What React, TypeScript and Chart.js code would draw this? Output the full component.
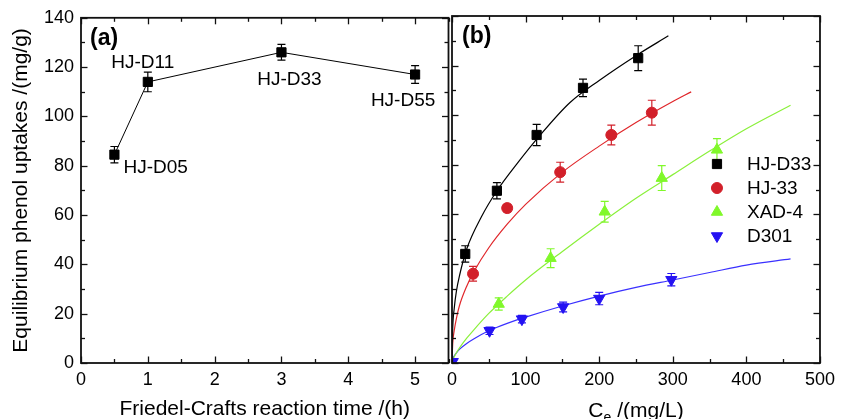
import React, { useEffect, useRef } from 'react';
import { Chart, registerables } from 'chart.js';

Chart.register(...registerables);

const FONT = '"Liberation Sans", Arial, Helvetica, sans-serif';

// ---------- Panel (a) ----------
const timeHours = [0.5, 1, 3, 5];
const uptakeA = [84.5, 114, 126, 117];
const errA = [3.3, 4, 3.2, 3.6];
const resinNamesA = ['HJ-D05', 'HJ-D11', 'HJ-D33', 'HJ-D55'];
const xTicksA = [0, 1, 2, 3, 4, 5];

// ---------- Panel (b) ----------
const seriesNames = ['HJ-D33', 'HJ-33', 'XAD-4', 'D301'];

const ceHJD33 = [18, 61, 115, 178, 253];
const qHJD33 = [44, 69.5, 92, 111, 123];
const errHJD33 = [3.3, 3.3, 4.3, 3.5, 5];

const ceHJ33 = [28.6, 75, 147, 216.5, 271.5];
const qHJ33 = [36, 62.5, 77, 92, 101];
const errHJ33 = [3, 1.5, 4, 4, 5];

const ceXAD4 = [63.5, 134, 207.5, 285, 360];
const qXAD4 = [23.8, 42.3, 61, 74.6, 86];
const errXAD4 = [2.5, 3.8, 4.2, 5, 4.5];

const ceD301 = [1, 51, 95, 151, 200, 298];
const qD301 = [0.5, 13, 17.7, 22.6, 26, 33.6];
const errD301 = [0, 1.5, 1.5, 2, 2.5, 2.5];

// fitted curves
const fitCeHJD33 = [0, 1, 3, 6, 10, 20, 40, 60, 90, 120, 160, 200, 250, 294];
const fitQHJD33 = [0, 14, 22, 29, 35, 46, 59, 69, 81, 92, 105, 114, 124, 132];

const fitCeHJ33 = [0, 1, 3, 6, 10, 20, 30, 50, 75, 100, 150, 200, 250, 300, 325];
const fitQHJ33 = [0, 8, 13, 18, 23, 31, 37, 46.5, 56, 64, 77, 87.5, 97, 105.5, 109.4];

const fitCeXAD4 = [0, 2, 5, 10, 20, 30, 50, 75, 100, 150, 200, 250, 300, 350, 400, 460];
const fitQXAD4 = [0, 1.8, 3.6, 6, 10, 13.5, 20, 27, 33.5, 45, 56, 66.5, 76, 85.5, 94.5, 104];

const fitCeD301 = [0, 2, 5, 10, 20, 30, 50, 75, 100, 150, 200, 250, 300, 350, 400, 460];
const fitQD301 = [0, 2.3, 3.7, 5.5, 7.9, 9.8, 13, 16, 18.5, 23, 27, 30.5, 33.5, 36.5, 39.5, 42];

const xTicksB = [0, 100, 200, 300, 400, 500];
const yTicks = [0, 20, 40, 60, 80, 100, 120, 140];

const BLACK = '#000000';
const RED = '#d2202a';
const GREEN = '#80f82a';
const BLUE = '#2412f2';

const pts = (xs: number[], ys: number[]) => xs.map((x, i) => ({ x, y: ys[i] }));

// ---------- plugins ----------
const framePlugin = {
  id: 'frame',
  afterDraw(chart: any, _args: any, opts: any) {
    const { ctx, chartArea: a, scales } = chart;
    const xs = scales.x;
    const ys = scales.y;
    ctx.save();
    ctx.strokeStyle = '#111';
    ctx.lineWidth = 1.3;
    const line = (x1: number, y1: number, x2: number, y2: number) => {
      ctx.beginPath();
      ctx.moveTo(x1, y1);
      ctx.lineTo(x2, y2);
      ctx.stroke();
    };
    for (let k = 0; ; k++) {
      const v = xs.min + k * opts.xMinor;
      if (v > xs.max + 1e-9) break;
      const major = Math.abs(v / opts.xMajor - Math.round(v / opts.xMajor)) < 1e-6;
      const len = major ? 6.5 : 4;
      const px = Math.round(xs.getPixelForValue(v)) + 0.5;
      line(px, a.bottom, px, a.bottom - len);
      line(px, a.top, px, a.top + len);
    }
    for (let k = 0; ; k++) {
      const v = ys.min + k * opts.yMinor;
      if (v > ys.max + 1e-9) break;
      const major = Math.abs(v / opts.yMajor - Math.round(v / opts.yMajor)) < 1e-6;
      const len = major ? 6.5 : 4;
      const py = Math.round(ys.getPixelForValue(v)) + 0.5;
      line(a.left, py, a.left + len, py);
      line(a.right, py, a.right - len, py);
    }
    ctx.lineWidth = 1.8;
    ctx.strokeStyle = '#111';
    ctx.strokeRect(a.left, a.top, a.right - a.left, a.bottom - a.top);
    // panel letter
    ctx.fillStyle = '#000';
    ctx.font = `bold 23px ${FONT}`;
    ctx.textAlign = 'left';
    ctx.textBaseline = 'middle';
    ctx.fillText(opts.letter, a.left + opts.letterDx, a.top + 21);
    ctx.restore();
  },
};

const errorBarPlugin = {
  id: 'errorBars',
  beforeDatasetsDraw(chart: any) {
    const { ctx, scales } = chart;
    const ys = scales.y;
    ctx.save();
    chart.data.datasets.forEach((ds: any, i: number) => {
      if (!ds.errors) return;
      const meta = chart.getDatasetMeta(i);
      ctx.strokeStyle = ds.errorColor || ds.borderColor;
      ctx.lineWidth = 1.2;
      meta.data.forEach((el: any, j: number) => {
        const e = ds.errors[j];
        if (!e) return;
        const v = ds.data[j].y;
        const x = el.x;
        const yt = ys.getPixelForValue(v + e);
        const yb = ys.getPixelForValue(v - e);
        ctx.beginPath();
        ctx.moveTo(x, yt);
        ctx.lineTo(x, yb);
        ctx.moveTo(x - 4, yt);
        ctx.lineTo(x + 4, yt);
        ctx.moveTo(x - 4, yb);
        ctx.lineTo(x + 4, yb);
        ctx.stroke();
      });
    });
    ctx.restore();
  },
};

const pointLabelPlugin = {
  id: 'pointLabels',
  afterDatasetsDraw(chart: any, _args: any, opts: any) {
    const { ctx } = chart;
    const meta = chart.getDatasetMeta(0);
    ctx.save();
    ctx.fillStyle = '#000';
    ctx.font = `19px ${FONT}`;
    ctx.textBaseline = 'middle';
    meta.data.forEach((el: any, j: number) => {
      const o = opts.offsets[j];
      ctx.textAlign = o.align;
      ctx.fillText(opts.names[j], el.x + o.dx, el.y + o.dy);
    });
    ctx.restore();
  },
};

function drawMarker(ctx: CanvasRenderingContext2D, style: string, rot: number, r: number, x: number, y: number) {
  ctx.beginPath();
  if (style === 'rect') {
    const h = r * Math.SQRT1_2;
    ctx.rect(x - h, y - h, 2 * h, 2 * h);
  } else if (style === 'circle') {
    ctx.arc(x, y, r, 0, Math.PI * 2);
  } else {
    const dir = rot === 180 ? -1 : 1;
    const s = r * Math.sin(Math.PI / 3);
    const c = r * 0.5;
    ctx.moveTo(x, y - dir * r);
    ctx.lineTo(x - s, y + dir * c);
    ctx.lineTo(x + s, y + dir * c);
    ctx.closePath();
  }
  ctx.fill();
  ctx.stroke();
}

const legendPlugin = {
  id: 'customLegend',
  afterDraw(chart: any, _args: any, opts: any) {
    const { ctx, chartArea: a } = chart;
    ctx.save();
    ctx.font = `19px ${FONT}`;
    ctx.textAlign = 'left';
    ctx.textBaseline = 'middle';
    opts.items.forEach((idx: number, k: number) => {
      const ds = chart.data.datasets[idx];
      const y = a.top + opts.top + k * opts.gap;
      const x = a.right - opts.fromRight;
      ctx.fillStyle = ds.backgroundColor;
      ctx.strokeStyle = ds.borderColor;
      ctx.lineWidth = 1;
      drawMarker(ctx, ds.pointStyle, ds.rotation || 0, ds.pointRadius, x, y);
      ctx.fillStyle = '#000';
      ctx.fillText(ds.label, x + 30, y + 1);
    });
    ctx.restore();
  },
};

const subTitlePlugin = {
  id: 'ceTitle',
  afterDraw(chart: any) {
    const { ctx, chartArea: a } = chart;
    ctx.save();
    ctx.fillStyle = '#000';
    ctx.textBaseline = 'alphabetic';
    ctx.textAlign = 'left';
    const big = `21px ${FONT}`;
    const small = `14px ${FONT}`;
    ctx.font = big;
    const wC = ctx.measureText('C').width;
    const wRest = ctx.measureText(' /(mg/L)').width;
    ctx.font = small;
    const wE = ctx.measureText('e').width;
    const total = wC + wE + wRest;
    let x = (a.left + a.right) / 2 - total / 2;
    const base = 417;
    ctx.font = big;
    ctx.fillText('C', x, base);
    x += wC;
    ctx.font = small;
    ctx.fillText('e', x, base + 5);
    x += wE;
    ctx.font = big;
    ctx.fillText(' /(mg/L)', x, base);
    ctx.restore();
  },
};

// ---------- component ----------
export default function App() {
  const refA = useRef<HTMLCanvasElement>(null);
  const refB = useRef<HTMLCanvasElement>(null);

  useEffect(() => {
    const tickFont = { family: FONT, size: 18 };
    const titleFont = { family: FONT, size: 21 };

    const chartA = new Chart(refA.current as HTMLCanvasElement, {
      type: 'scatter',
      data: {
        datasets: [
          {
            label: 'a',
            data: pts(timeHours, uptakeA),
            errors: errA,
            showLine: true,
            borderColor: BLACK,
            backgroundColor: BLACK,
            borderWidth: 1,
            pointStyle: 'rect',
            pointRadius: 6.5,
            pointBorderWidth: 1,
          } as any,
        ],
      },
      options: {
        animation: false,
        responsive: false,
        devicePixelRatio: 1,
        layout: { padding: { top: 16, left: 0, right: 4, bottom: 0 } },
        plugins: {
          legend: { display: false },
          tooltip: { enabled: false },
          frame: { xMinor: 0.5, xMajor: 1, yMinor: 10, yMajor: 20, letter: '(a)', letterDx: 9 },
          pointLabels: {
            names: resinNamesA,
            offsets: [
              { dx: 9, dy: 13, align: 'left' },
              { dx: -5, dy: -19, align: 'center' },
              { dx: 8, dy: 27, align: 'center' },
              { dx: -12, dy: 26, align: 'center' },
            ],
          },
        } as any,
        scales: {
          x: {
            type: 'linear',
            min: 0,
            max: 5.5,
            afterBuildTicks: (s: any) => {
              s.ticks = xTicksA.map((v) => ({ value: v }));
            },
            ticks: { font: tickFont, color: '#000', padding: 6, maxRotation: 0 },
            grid: { display: false, drawTicks: false },
            border: { display: false },
            title: { display: true, text: 'Friedel-Crafts reaction time /(h)', font: titleFont, color: '#000', padding: { top: 0, bottom: -3 } },
            afterFit: (s: any) => {
              s.height = 56;
            },
          },
          y: {
            type: 'linear',
            min: 0,
            max: 140,
            afterBuildTicks: (s: any) => {
              s.ticks = yTicks.map((v) => ({ value: v }));
            },
            ticks: { font: tickFont, color: '#000', padding: 7 },
            grid: { display: false, drawTicks: false },
            border: { display: false },
            title: { display: true, text: 'Equilibrium phenol uptakes /(mg/g)', font: titleFont, color: '#000', padding: { top: 9, bottom: 0 } },
            afterFit: (s: any) => {
              s.width = 81;
            },
          },
        },
      } as any,
      plugins: [errorBarPlugin, pointLabelPlugin, framePlugin],
    });

    const marker = (label: string, xs: number[], ys: number[], errs: number[], color: string, style: string, r: number, rot = 0) =>
      ({
        label,
        data: pts(xs, ys),
        errors: errs,
        showLine: false,
        borderColor: color,
        backgroundColor: color,
        pointStyle: style,
        pointRadius: r,
        pointBorderWidth: 1,
        rotation: rot,
        pointRotation: rot,
      } as any);

    const fit = (xs: number[], ys: number[], color: string) =>
      ({
        label: '',
        data: pts(xs, ys),
        showLine: true,
        borderColor: color,
        borderWidth: 1.2,
        pointRadius: 0,
        cubicInterpolationMode: 'monotone',
      } as any);

    const chartB = new Chart(refB.current as HTMLCanvasElement, {
      type: 'scatter',
      data: {
        datasets: [
          marker(seriesNames[0], ceHJD33, qHJD33, errHJD33, BLACK, 'rect', 6.5),
          marker(seriesNames[1], ceHJ33, qHJ33, errHJ33, RED, 'circle', 5.5),
          marker(seriesNames[2], ceXAD4, qXAD4, errXAD4, GREEN, 'triangle', 6.5),
          marker(seriesNames[3], ceD301, qD301, errD301, BLUE, 'triangle', 6.5, 180),
          fit(fitCeHJD33, fitQHJD33, BLACK),
          fit(fitCeHJ33, fitQHJ33, '#e0262a'),
          fit(fitCeXAD4, fitQXAD4, '#8af03a'),
          fit(fitCeD301, fitQD301, '#3a30ff'),
        ],
      },
      options: {
        animation: false,
        responsive: false,
        devicePixelRatio: 1,
        layout: { padding: { top: 16, left: 12, right: 16, bottom: 0 } },
        plugins: {
          legend: { display: false },
          tooltip: { enabled: false },
          frame: { xMinor: 50, xMajor: 100, yMinor: 10, yMajor: 20, letter: '(b)', letterDx: 10 },
          customLegend: { items: [0, 1, 2, 3], top: 148, gap: 24, fromRight: 103 },
        } as any,
        scales: {
          x: {
            type: 'linear',
            min: 0,
            max: 500,
            afterBuildTicks: (s: any) => {
              s.ticks = xTicksB.map((v) => ({ value: v }));
            },
            ticks: { font: tickFont, color: '#000', padding: 6, maxRotation: 0 },
            grid: { display: false, drawTicks: false },
            border: { display: false },
            title: { display: false },
            afterFit: (s: any) => {
              s.height = 56;
            },
          },
          y: {
            type: 'linear',
            display: false,
            min: 0,
            max: 140,
          },
        },
      } as any,
      plugins: [errorBarPlugin, framePlugin, legendPlugin, subTitlePlugin],
    });

    return () => {
      chartA.destroy();
      chartB.destroy();
    };
  }, []);

  return (
    <div style={{ position: 'absolute', left: 0, top: 0, width: 841, height: 419, background: '#fff', overflow: 'hidden' }}>
      <canvas ref={refA} width={456} height={419} style={{ position: 'absolute', left: 0, top: 0 }} />
      <canvas ref={refB} width={401} height={419} style={{ position: 'absolute', left: 440, top: 0 }} />
    </div>
  );
}
